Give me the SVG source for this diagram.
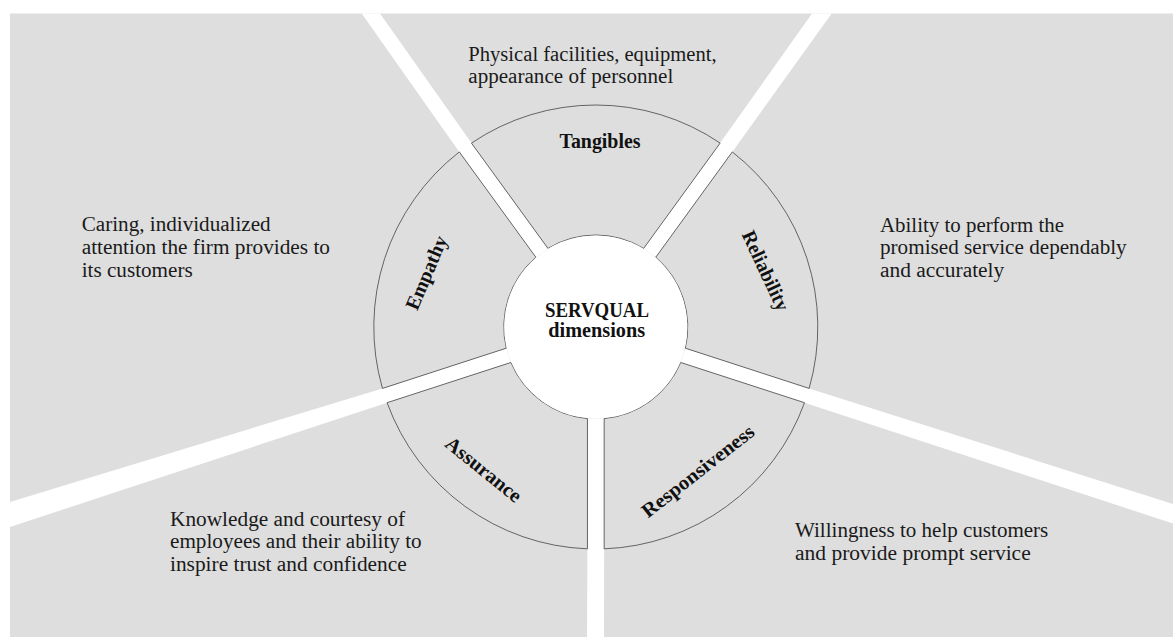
<svg xmlns="http://www.w3.org/2000/svg" width="1173" height="637" viewBox="0 0 1173 637">
<style>
.bg{fill:#dedede}
.gap{fill:#ffffff}
.seg{fill:#dedede;stroke:#444;stroke-width:0.8}
.desc{font-family:"Liberation Serif","Times New Roman",serif;font-size:20px;fill:#1a1a1a}
.lbl{font-family:"Liberation Serif","Times New Roman",serif;font-size:20px;font-weight:bold;fill:#111}
</style>
<rect x="0" y="0" width="1173" height="637" fill="#ffffff"/>
<rect class="bg" x="10" y="13.5" width="1163" height="623.5"/>
<g id="separators">
<polygon class="gap" points="535.84,257.23 459.32,151.91 361.7,13.5 380,13.5 471.46,143.10 547.97,248.41"/>
<polygon class="gap" points="643.63,248.41 720.14,143.09 812,13.5 831.7,13.5 732.28,151.91 655.76,257.23"/>
<polygon class="gap" points="685.32,348.20 809.13,388.43 1173,504 1173,523.5 804.50,402.70 680.69,362.47"/>
<polygon class="gap" points="604.15,418.62 604.15,548.84 604,637 587,637 587.45,548.84 587.45,418.62"/>
<polygon class="gap" points="510.91,362.47 387.10,402.70 10,527 0,530.3 0,505 10,502 382.47,388.43 506.28,348.20"/>
</g>
<g id="tangibles">
<path class="seg" d="M471.46,143.10 A222,222 0 0 1 720.14,143.09 L643.63,248.41 A92,92 0 0 0 547.97,248.41 Z"/>
<text class="lbl" x="600" y="148.3" text-anchor="middle" textLength="81" lengthAdjust="spacingAndGlyphs">Tangibles</text>
</g>
<g id="reliability">
<path class="seg" d="M732.28,151.91 A222,222 0 0 1 809.13,388.43 L685.32,348.20 A92,92 0 0 0 655.76,257.23 Z"/>
<text class="lbl" transform="translate(759.6,273.5) rotate(65)" x="0" y="0" text-anchor="middle" textLength="86" lengthAdjust="spacingAndGlyphs">Reliability</text>
</g>
<g id="responsiveness">
<path class="seg" d="M804.50,402.70 A222,222 0 0 1 604.15,548.84 L604.15,418.62 A92,92 0 0 0 680.69,362.47 Z"/>
<text class="lbl" transform="translate(702,476.4) rotate(-38)" x="0" y="0" text-anchor="middle" textLength="137" lengthAdjust="spacingAndGlyphs">Responsiveness</text>
</g>
<g id="assurance">
<path class="seg" d="M587.45,548.84 A222,222 0 0 1 387.10,402.70 L510.91,362.47 A92,92 0 0 0 587.45,418.62 Z"/>
<text class="lbl" transform="translate(479.5,474.7) rotate(39)" x="0" y="0" text-anchor="middle" textLength="92" lengthAdjust="spacingAndGlyphs">Assurance</text>
</g>
<g id="empathy">
<path class="seg" d="M382.47,388.43 A222,222 0 0 1 459.32,151.91 L535.84,257.23 A92,92 0 0 0 506.28,348.20 Z"/>
<text class="lbl" transform="translate(432.5,275.3) rotate(-67)" x="0" y="0" text-anchor="middle" textLength="78" lengthAdjust="spacingAndGlyphs">Empathy</text>
</g>
<g id="center">
<circle cx="595.8" cy="327" r="91.6" fill="#ffffff"/>
<text class="lbl" x="597" y="316.7" text-anchor="middle" textLength="104" lengthAdjust="spacingAndGlyphs">SERVQUAL</text>
<text class="lbl" x="596.7" y="337.3" text-anchor="middle" textLength="96.7" lengthAdjust="spacingAndGlyphs">dimensions</text>
</g>
<g id="desc-tangibles">
<text class="desc" x="468.3" y="60.5" textLength="248.3" lengthAdjust="spacingAndGlyphs">Physical facilities, equipment,</text>
<text class="desc" x="468.3" y="83" textLength="205" lengthAdjust="spacingAndGlyphs">appearance of personnel</text>
</g>
<g id="desc-empathy">
<text class="desc" x="81.7" y="231" textLength="189" lengthAdjust="spacingAndGlyphs">Caring, individualized</text>
<text class="desc" x="81.7" y="254.3" textLength="248.3" lengthAdjust="spacingAndGlyphs">attention the firm provides to</text>
<text class="desc" x="81.7" y="277.3" textLength="111" lengthAdjust="spacingAndGlyphs">its customers</text>
</g>
<g id="desc-reliability">
<text class="desc" x="880" y="231.7" textLength="184" lengthAdjust="spacingAndGlyphs">Ability to perform the</text>
<text class="desc" x="880" y="254.3" textLength="246.7" lengthAdjust="spacingAndGlyphs">promised service dependably</text>
<text class="desc" x="880" y="277" textLength="124.3" lengthAdjust="spacingAndGlyphs">and accurately</text>
</g>
<g id="desc-assurance">
<text class="desc" x="170" y="525.5" textLength="235" lengthAdjust="spacingAndGlyphs">Knowledge and courtesy of</text>
<text class="desc" x="170" y="548.3" textLength="251.7" lengthAdjust="spacingAndGlyphs">employees and their ability to</text>
<text class="desc" x="170" y="571" textLength="236.7" lengthAdjust="spacingAndGlyphs">inspire trust and confidence</text>
</g>
<g id="desc-responsiveness">
<text class="desc" x="795" y="537.3" textLength="253.3" lengthAdjust="spacingAndGlyphs">Willingness to help customers</text>
<text class="desc" x="795" y="560" textLength="235.7" lengthAdjust="spacingAndGlyphs">and provide prompt service</text>
</g>
</svg>
